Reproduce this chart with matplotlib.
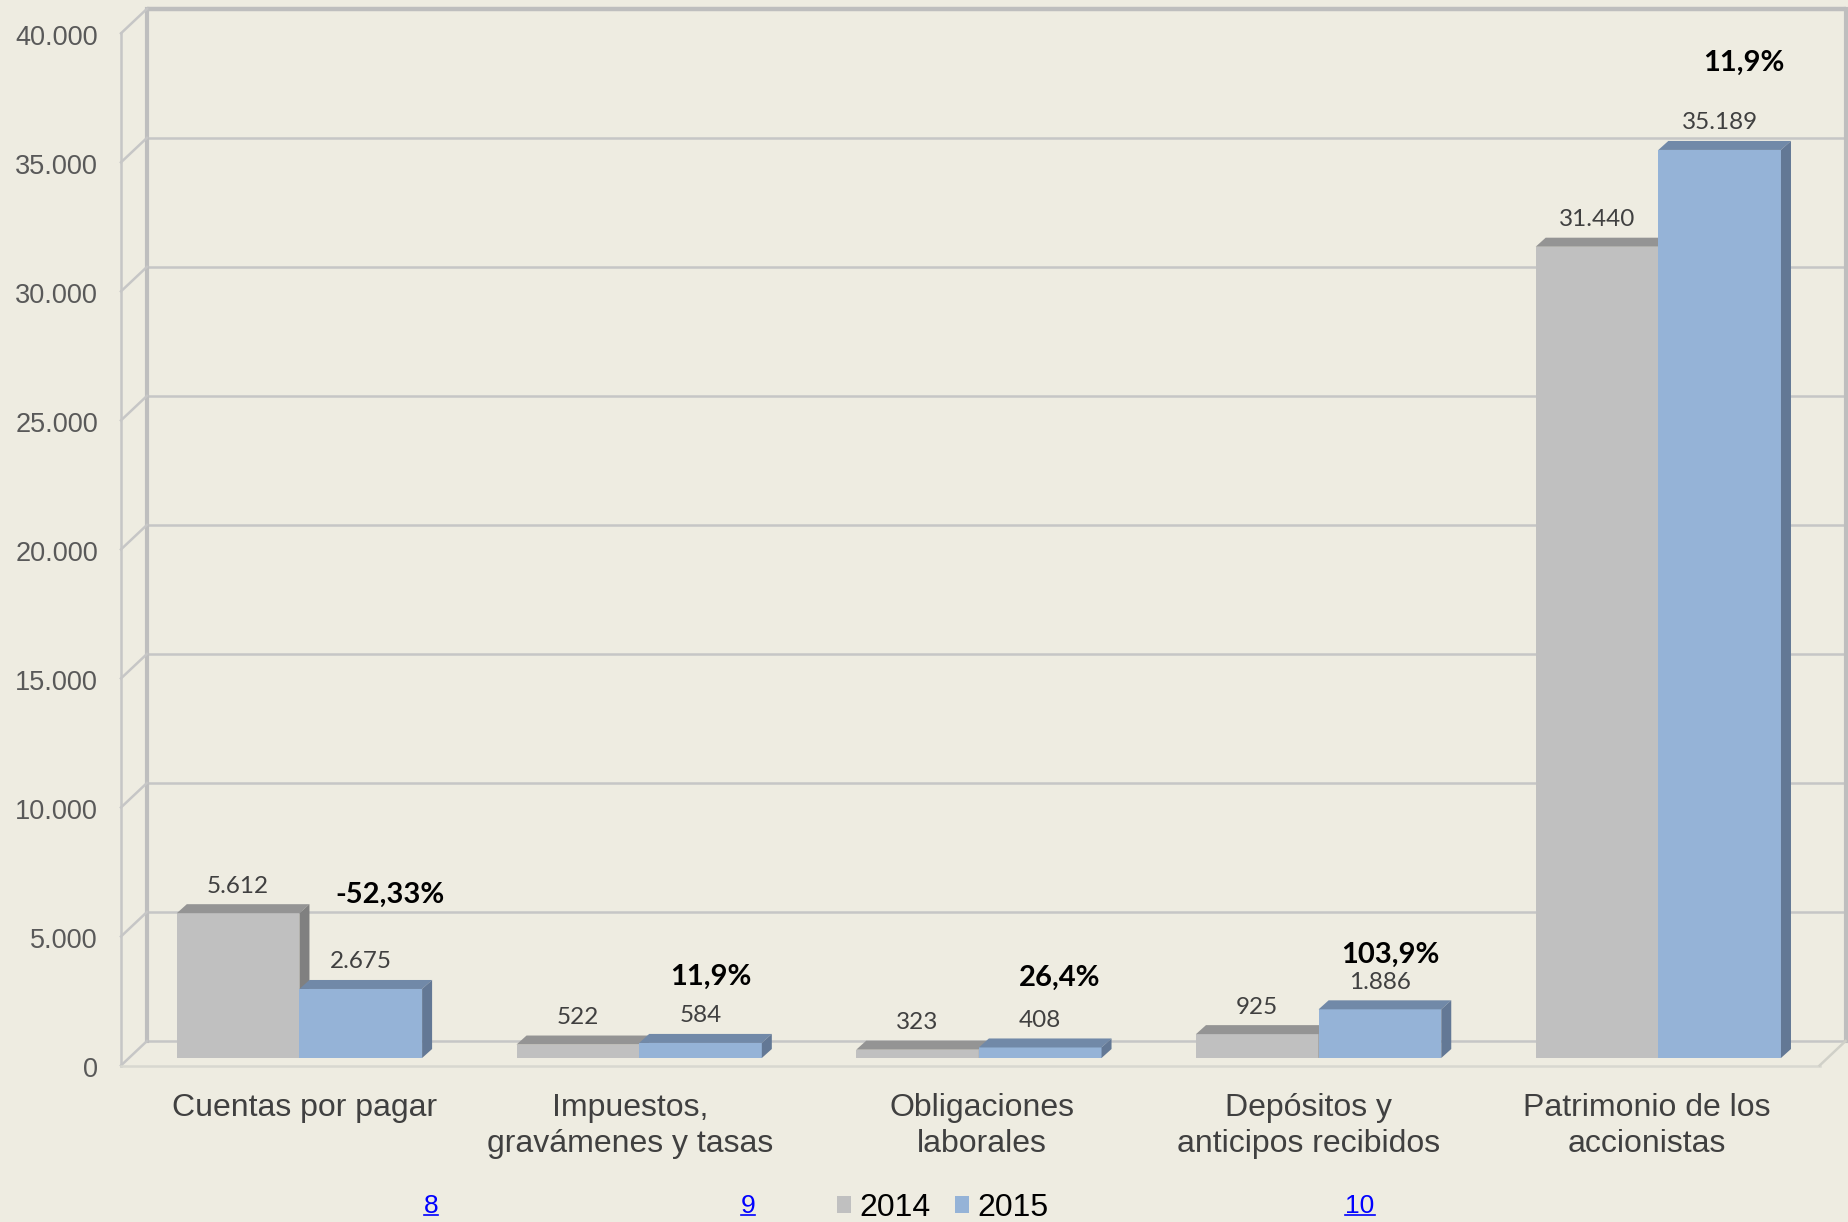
import matplotlib
matplotlib.use("Agg")
import matplotlib.pyplot as plt
from matplotlib.transforms import ScaledTranslation
from matplotlib.patches import Polygon
from matplotlib.lines import Line2D
import numpy as np

# ---------------- data ----------------
categories = ["Cuentas por pagar", "Impuestos,\ngravámenes y tasas", "Obligaciones\nlaborales",
              "Depósitos y\nanticipos recibidos", "Patrimonio de los\naccionistas"]
series_names = ["2014", "2015"]
values_2014 = [5612, 522, 323, 925, 31440]
values_2015 = [2675, 584, 408, 1886, 35189]
value_labels_2014 = ["5.612", "522", "323", "925", "31.440"]
value_labels_2015 = ["2.675", "584", "408", "1.886", "35.189"]
change_labels = ["-52,33%", "11,9%", "26,4%", "103,9%", "11,9%"]
y_ticks = [0, 5000, 10000, 15000, 20000, 25000, 30000, 35000, 40000]
y_tick_labels = ["0", "5.000", "10.000", "15.000", "20.000", "25.000", "30.000", "35.000", "40.000"]
footnote_refs = ["8", "9", "10"]

# ---------------- layout / style ----------------
W, H = 1848, 1222
BG = "#EEECE1"
GRID = "#C6C6C6"
GRAY_F, GRAY_T, GRAY_S = "#C0C0C0", "#949494", "#808080"
BLUE_F, BLUE_T, BLUE_S = "#95B3D7", "#7189A8", "#637895"
FRONT = (-8.6, -7.5)      # px offset of front plane from bar plane
BACK = (17.4, 17.0)       # px offset of back wall from bar plane
BAR_DEPTH = (10.0, 9.0)   # px
BAR_W = 0.361
pct_offsets = [(29, 94), (10, 66), (19, 70), (10, 54), (24, 87)]  # px from top-centre of 2015 bar
cat_label_dx = [5, -9, 3, -10, -12]                                # px shift of category labels
footnote_pos = [(431, 1206), (748, 1206), (1360, 1206)]            # px from top-left

fig = plt.figure(figsize=(W / 100, H / 100), dpi=100, facecolor=BG)
ax = fig.add_axes([129.6 / W, (H - 1058) / H, (1828.2 - 129.6) / W, (1058 - 25.8) / H])
ax.set_xlim(-0.5, 4.5)
ax.set_ylim(0, 40000)
ax.set_facecolor("none")
for s in ax.spines.values():
    s.set_visible(False)


def off(dx, dy):
    return ax.transData + ScaledTranslation(dx / 100, dy / 100, fig.dpi_scale_trans)


px_x = (ax.transData.transform((1, 0))[0] - ax.transData.transform((0, 0))[0])
px_y = (ax.transData.transform((0, 1000))[1] - ax.transData.transform((0, 0))[1]) / 1000


def dx_data(px):
    return px / px_x


def dy_data(px):
    return px / px_y


xmin, xmax = -0.5, 4.5
depth_x = dx_data(BACK[0] - FRONT[0])
depth_y = dy_data(BACK[1] - FRONT[1])

# back wall gridlines
for t in y_ticks:
    lw = 3.2 if t == y_ticks[-1] else 1.8
    c = "#BEBEBE" if t == y_ticks[-1] else GRID
    ax.plot([xmin, xmax], [t, t], transform=off(*BACK), color=c, lw=lw, clip_on=False, zorder=1,
            solid_capstyle="butt")
# back wall verticals
ax.plot([xmin, xmin], [0, 40000], transform=off(*BACK), color="#BEBEBE", lw=3.0, clip_on=False, zorder=1)
ax.plot([xmax, xmax], [0, 40000], transform=off(*BACK), color="#BEBEBE", lw=3.0, clip_on=False, zorder=1)
# left wall: front vertical + obliques
ax.plot([xmin, xmin], [0, 40000], transform=off(*FRONT), color=GRID, lw=1.8, clip_on=False, zorder=1)
for t in y_ticks:
    ax.plot([xmin, xmin + depth_x], [t, t + depth_y], transform=off(*FRONT), color=GRID, lw=1.8,
            clip_on=False, zorder=1)
# floor
ax.plot([xmin, xmax], [0, 0], transform=off(*FRONT), color="#D8D8D0", lw=1.8, clip_on=False, zorder=1)
ax.plot([xmax, xmax + depth_x], [0, depth_y], transform=off(*FRONT), color="#D0D0C8", lw=1.8,
        clip_on=False, zorder=1)

# bars
x = np.arange(len(categories))
bx = dx_data(BAR_DEPTH[0])
by = dy_data(BAR_DEPTH[1])
b1 = ax.bar(x - BAR_W / 2, values_2014, width=BAR_W, color=GRAY_F, lw=0, zorder=3, label=series_names[0])
b2 = ax.bar(x + BAR_W / 2, values_2015, width=BAR_W, color=BLUE_F, lw=0, zorder=5, label=series_names[1])


def faces(rect, top_c, side_c, z):
    x0 = rect.get_x()
    x1 = x0 + rect.get_width()
    h = rect.get_height()
    ax.add_patch(Polygon([(x0, h), (x0 + bx, h + by), (x1 + bx, h + by), (x1, h)], closed=True,
                         facecolor=top_c, lw=0, zorder=z, clip_on=False))
    ax.add_patch(Polygon([(x1, 0), (x1, h), (x1 + bx, h + by), (x1 + bx, by)], closed=True,
                         facecolor=side_c, lw=0, zorder=z, clip_on=False))


for r in b1:
    faces(r, GRAY_T, GRAY_S, 3)
for r in b2:
    faces(r, BLUE_T, BLUE_S, 5)

# value labels
for rects, labs in ((b1, value_labels_2014), (b2, value_labels_2015)):
    for r, lab in zip(rects, labs):
        ax.annotate(lab, xy=(r.get_x() + r.get_width() / 2, r.get_height()), xytext=(0, 27),
                    textcoords="offset pixels", ha="center", va="center", fontsize=17.5,
                    family=["Lato", "DejaVu Sans"], color="#404040", zorder=6)

# percentage change labels
for r, lab, (ox, oy) in zip(b2, change_labels, pct_offsets):
    ax.annotate(lab, xy=(r.get_x() + r.get_width() / 2, r.get_height()), xytext=(ox, oy),
                textcoords="offset pixels", ha="center", va="center", fontsize=21,
                fontweight="bold", family=["Lato", "DejaVu Sans"], color="black", zorder=6)

# y tick labels on the front plane
ax.set_yticks([])
for t, lab in zip(y_ticks, y_tick_labels):
    ax.text(xmin, t, lab, transform=off(FRONT[0] - 23, FRONT[1] - 4.5), ha="right", va="center",
            fontsize=19.5, family="Liberation Sans", color="#595959")

# category labels
ax.set_xticks(x, categories)
ax.tick_params(axis="x", length=0, pad=25, labelsize=23, labelcolor="#404040")
for lab, dxp in zip(ax.get_xticklabels(), cat_label_dx):
    lab.set_family("Liberation Sans")
    lab.set_linespacing(1.27)
    lab.set_transform(lab.get_transform() + ScaledTranslation(dxp / 100, 0, fig.dpi_scale_trans))

# legend
leg = fig.legend(handles=[b1, b2], labels=series_names, loc="center", ncol=2,
                 bbox_to_anchor=(942.5 / W, 14 / H), bbox_transform=fig.transFigure, frameon=False,
                 prop={"family": "Liberation Sans", "size": 23}, handlelength=0.45, handleheight=0.45,
                 handletextpad=0.25, columnspacing=0.75, borderpad=0)

# footnote reference links
texts = []
for ref, (px, py) in zip(footnote_refs, footnote_pos):
    texts.append(fig.text(px / W, 1 - py / H, ref, ha="center", va="center", fontsize=19,
                          family="Liberation Sans", color="#0000FF"))
fig.canvas.draw()
r = fig.canvas.get_renderer()
for t in texts:
    bb = t.get_window_extent(r)
    yline = bb.y0 + 3
    fig.add_artist(Line2D([bb.x0 / W, bb.x1 / W], [yline / H, yline / H], transform=fig.transFigure,
                          color="#0000FF", lw=1.2))

fig.savefig("out.png", dpi=100, facecolor=BG)
